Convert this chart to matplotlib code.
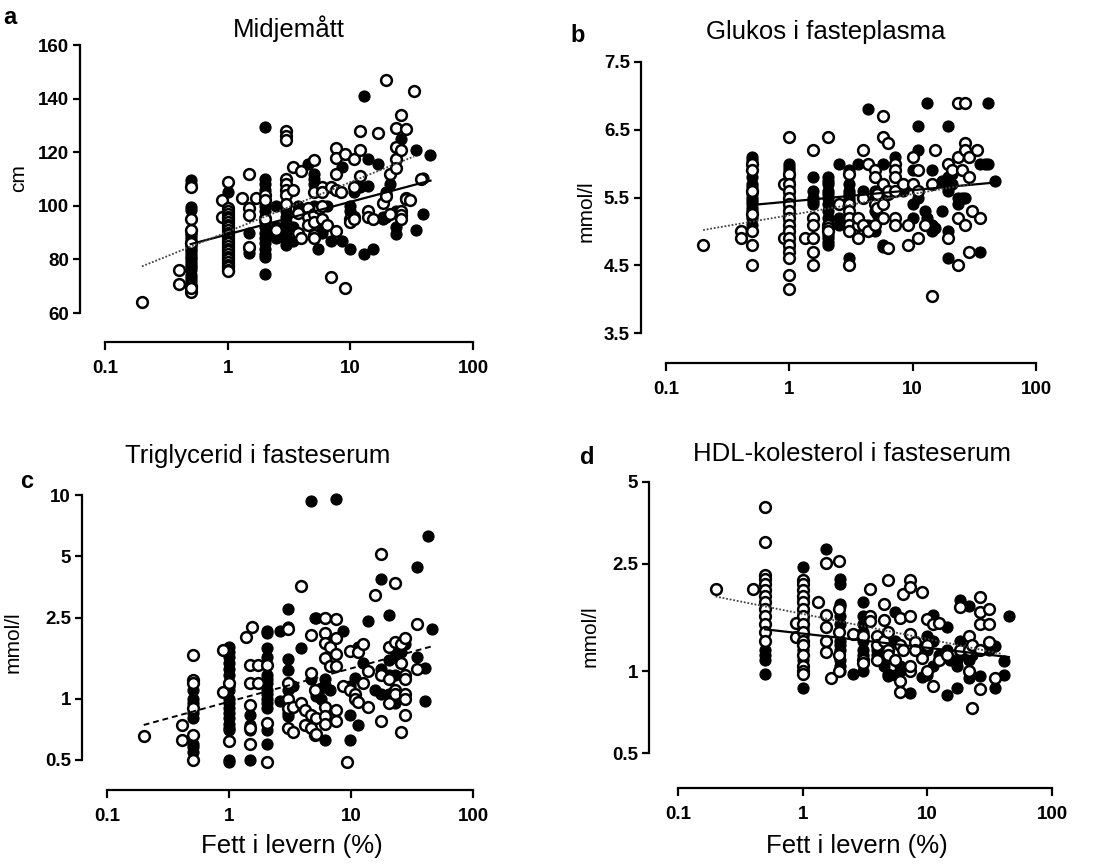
import matplotlib
matplotlib.use("Agg")
import matplotlib.pyplot as plt
import numpy as np

plt.rcParams['font.family'] = ['Liberation Sans', 'DejaVu Sans']

# ---------------- DATA (columns: (fat %, [values])) ----------------
# Panel a: Midjemått (cm)
a_filled = [
    (0.5, [109.5, 108, 99.5, 98.5, 90, 89, 88, 87, 86, 85, 84, 83, 82, 81, 80, 79, 78, 77, 76, 74, 73, 72]),
    (1.0, [105, 98, 96, 94, 90, 88, 85, 82, 80, 78]),
    (1.5, [90, 84, 82.5]),
    (2.0, [129.5, 110, 108, 106, 100, 98, 96, 94, 92, 90, 88, 86, 84, 82, 81, 74.5]),
    (2.5, [100, 92, 90, 88]),
    (3.0, [98, 96, 94, 92, 90, 87, 85.5]),
    (3.4, [92, 87]), (3.75, [100]), (4.0, [98]), (4.5, [115.5]),
    (5.1, [112, 110, 108, 100]), (5.5, [84]), (5.9, [91, 90]), (6.4, [100]),
    (7.0, [87]), (8.5, [114.5, 87]), (10, [100, 84, 98]), (10.8, [105]),
    (11.9, [107]), (12.9, [141, 82]), (13.9, [117.5, 107.5]), (15.3, [84]),
    (16.8, [115.5]), (18.5, [96, 95]), (19.6, [105, 104, 96]), (20.9, [108]),
    (23.4, [98, 92, 89.5]), (26, [125]), (34.5, [121, 91]), (39, [97, 110.5]),
    (44.9, [119]),
]
a_open = [
    (0.2, [64]), (0.4, [76, 71]), (0.5, [107, 95, 91, 86, 70, 68, 69.5]),
    (0.9, [102, 96]),
    (1.0, [109, 99, 98, 97, 96, 95, 94, 93, 92, 91, 90, 89, 88, 87, 86, 85, 84, 83, 82, 81, 80, 79, 78, 77, 76, 75.5]),
    (1.31, [103]), (1.5, [112, 99, 96.5, 84.5]), (1.69, [103]), (2.0, [104, 102, 95]),
    (2.5, [91]), (3.0, [128, 126, 124.5, 110, 108, 106, 104, 100.5]),
    (3.41, [114.5, 106]), (3.74, [97.5, 90]), (3.98, [113, 88]), (4.5, [99, 96, 93]),
    (5.1, [117, 105, 97, 94, 89, 88]), (5.55, [99]), (5.9, [107, 105, 100, 95]),
    (6.4, [93]), (7.0, [107, 73.5]), (7.6, [121.5, 118, 112, 106, 90.5]),
    (8.45, [105]), (9.1, [119.5, 69.5]), (10, [95, 94]), (10.8, [117.5, 107, 96, 95]),
    (11.9, [128, 121, 111]), (13.9, [98, 96]), (15.3, [95]), (16.8, [127]),
    (18.5, [101]), (19.6, [147, 103.5]), (20.9, [112, 97]),
    (23.4, [129, 122, 117.5, 114]), (26, [134, 121, 98, 96.5, 95]),
    (28.2, [128.5, 103, 102.5]), (30.5, [102]), (32.8, [143]), (38, [110]),
]
a_fit_filled_x = [0.5, 45]
a_fit_filled_y = [85.7, 109.4]
a_fit_open_x = [0.2, 33]
a_fit_open_y = [77.4, 118.4]

# Panel b: Glukos i fasteplasma (mmol/l)
b_filled = [
    (0.5, [6.1, 6.05, 5.8, 5.7, 5.65, 5.55, 5.5, 5.45, 5.4, 5.35, 5.3, 5.2, 5.1]),
    (1.0, [6.0, 5.95, 5.9, 5.8, 5.75, 5.65, 5.55, 5.45, 5.35, 5.25, 5.15, 5.05, 4.95, 4.85, 4.75]),
    (1.57, [5.8, 5.6, 5.5, 5.45, 5.4]),
    (2.05, [5.8, 5.75, 5.7, 5.6, 5.55, 5.5, 5.4, 5.3, 5.2, 4.95, 4.9, 4.85, 4.8]),
    (2.54, [6.0, 5.2, 5.1]), (3.05, [5.9, 5.7, 5.6, 5.55, 5.5, 5.45, 4.6]),
    (3.58, [6.0]), (3.98, [5.6]), (4.37, [6.8, 5.1]), (4.95, [5.6, 5.5, 5.3, 5.0]),
    (5.1, [5.55, 5.25]), (5.78, [6.0, 5.5, 4.8, 4.77]), (7.2, [6.1]), (8.4, [5.6]),
    (10, [5.9, 5.4, 5.2]), (11.1, [6.55, 6.2, 5.5]), (12.6, [5.3]), (13, [6.9, 5.2]),
    (14.3, [5.9, 5.1, 5.0]), (15.2, [5.05]), (17.2, [5.3, 5.75]),
    (19.5, [6.55, 5.8, 5.6, 4.6, 5.0]), (20.7, [5.85, 5.7]), (23.4, [5.5, 5.4]),
    (24.9, [5.5]), (26.5, [5.5]), (35.2, [6.0, 4.7]), (38.6, [6.0]), (41, [6.9, 6.0]),
    (46.5, [5.75]),
]
b_open = [
    (0.2, [4.8]), (0.405, [5.0, 4.9]), (0.5, [6.0, 5.9, 5.6, 5.25, 5.0, 4.8, 4.5]),
    (0.906, [5.7, 4.9]),
    (1.0, [6.4, 5.85, 5.7, 5.6, 5.5, 5.4, 5.3, 5.2, 5.1, 5.0, 4.9, 4.8, 4.7, 4.6, 4.35, 4.15]),
    (1.34, [4.9]), (1.57, [6.2, 5.2, 5.1, 4.9, 4.7, 4.5]), (2.05, [6.4, 5.1, 5.05, 5.0]),
    (2.54, [5.4]), (3.05, [5.85, 5.4, 5.3, 5.2, 5.1, 5.0, 4.5]), (3.58, [5.1, 4.9, 5.2]),
    (3.98, [6.2, 5.5, 5.1]), (4.37, [6.0, 5.0]), (4.95, [5.9, 5.8, 5.4, 5.1]),
    (5.1, [5.55, 5.35]), (5.78, [6.7, 6.4, 5.7, 5.4, 5.2]), (6.36, [6.3, 4.75, 5.55, 5.6]),
    (7.2, [6.0, 5.9, 5.8, 5.6, 5.2, 5.1]), (8.4, [5.7]), (9.1, [5.1, 4.8]),
    (10, [6.1, 5.7]), (11.1, [5.9, 5.6, 4.9]), (12.6, [5.1]), (14.3, [4.05, 5.7]),
    (15.2, [6.2]), (19.5, [6.0, 4.9]), (20.7, [5.9]), (23.4, [6.9, 6.1, 5.2, 4.5]),
    (24.9, [5.9]), (26.5, [6.9, 6.3, 6.2, 5.1]), (28.8, [6.1, 5.8, 4.7]), (30.5, [5.3]),
    (33, [6.2]), (35.2, [5.2]),
]
b_fit_filled_x = [0.5, 46]
b_fit_filled_y = [5.39, 5.72]
b_fit_open_x = [0.2, 30]
b_fit_open_y = [5.02, 5.70]

# Panel c: Triglycerid i fasteserum (mmol/l)
c_filled = [
    (0.51, [1.1, 1.0, 0.95, 0.85, 0.8, 0.6, 0.58, 0.55]),
    (1.0, [1.8, 1.7, 1.6, 1.5, 1.4, 1.3, 1.15, 1.1, 1.0, 0.95, 0.9, 0.85, 0.8, 0.75, 0.72, 0.7, 0.5, 0.49]),
    (1.5, [0.83, 0.74, 0.7, 0.5]),
    (2.04, [2.15, 2.1, 1.77, 1.6, 1.3, 1.25, 1.2, 1.1, 1.05, 1.0, 0.95, 0.9, 0.7, 0.6]),
    (2.6, [2.15, 0.97]), (3.05, [2.76, 2.25, 1.56, 1.38, 1.1, 0.95, 0.85, 0.82]),
    (3.35, [1.15]), (3.92, [1.77]), (4.68, [9.34, 1.25]), (5.05, [2.48]),
    (5.2, [2.48, 1.03]), (5.73, [1.0, 1.13]), (6.1, [1.25, 1.17, 0.63]), (6.7, [1.1]),
    (7.6, [9.56]), (8.6, [2.14]), (9.8, [1.15, 0.83, 0.63]), (10.8, [1.26]),
    (11.5, [1.8, 0.74]), (12.6, [1.49]), (13.9, [2.42]), (15.6, [1.1]),
    (17.6, [3.87, 1.4, 1.05]), (20.3, [2.58, 1.55, 1.3, 1.05]), (23, [1.75, 1.6, 1.3, 0.95]),
    (25.8, [1.7]), (27.9, [1.85]), (34.7, [4.45, 1.6]), (40.7, [1.42, 0.97]),
    (42.9, [6.31]), (46.2, [2.2]),
]
c_open = [
    (0.2, [0.656]), (0.41, [0.743, 0.627]), (0.51, [1.64, 1.23, 1.2, 0.9, 0.66, 0.5]),
    (0.89, [1.73, 1.08]), (1.0, [1.2, 0.62]), (1.38, [2.01]), (1.54, [2.24]),
    (1.5, [1.46, 1.19, 0.93, 0.72, 0.6]), (1.72, [1.46, 1.19]), (2.04, [1.46, 0.76, 0.49]),
    (3.05, [2.2, 1.2, 1.0, 0.9, 0.72]), (3.35, [0.91, 0.69]), (3.92, [3.57, 0.95]),
    (4.17, [0.74, 0.88]), (4.68, [2.06, 1.33, 0.83, 0.72]), (5.05, [1.1, 0.66]),
    (5.2, [0.8, 0.67]), (6.1, [2.5, 2.1, 1.87, 1.58, 0.91, 0.82, 0.75]), (6.7, [1.8, 1.44]),
    (7.6, [2.45, 1.98, 1.66, 1.45, 0.88, 0.78]), (8.6, [1.15]), (9.3, [0.49]),
    (9.8, [1.71, 1.1]), (10.8, [1.05, 1.0]), (11.5, [1.7, 0.96]), (12.6, [1.85, 1.2]),
    (13.9, [1.36, 0.91]), (15.6, [3.23]), (17.6, [5.13, 1.3, 0.78]), (20.3, [1.8, 1.25, 0.95]),
    (23, [3.7, 1.9, 1.1, 1.05]), (25.8, [1.85, 1.5, 0.69]),
    (27.9, [1.98, 1.3, 1.25, 1.05, 0.83, 1.0]), (34.7, [2.33, 1.4]),
]
c_fit_x = [0.2, 45]
c_fit_y = [0.743, 1.8]

# Panel d: HDL-kolesterol i fasteserum (mmol/l)
d_filled = [
    (0.5, [1.2, 1.15, 1.1, 0.98]),
    (1.0, [2.43, 1.85, 1.65, 1.55, 1.45, 1.35, 1.2, 1.1, 0.87]),
    (1.53, [2.84]),
    (2.0, [2.19, 2.1, 1.78, 1.75, 1.6, 1.5, 1.3, 1.25, 1.2, 1.1, 1.05, 1.0]),
    (2.52, [0.98]), (3.07, [1.81, 1.6, 1.5, 1.4, 1.3, 1.2, 1.15, 1.0]),
    (3.92, [1.2, 1.15]), (4.52, [1.1, 1.05]), (4.87, [0.96, 0.98]), (5.5, [1.65, 1.3, 0.97]),
    (6.04, [1.0, 1.05]), (7.27, [0.83]), (9.0, [0.95]), (10, [1.35, 1.2, 0.97]),
    (11.2, [1.61, 1.3, 1.05]), (12.3, [1.15]), (14.3, [1.46, 1.2, 0.82]), (15.2, [1.1]),
    (17.3, [0.87, 1.1, 1.05]), (18.4, [1.83, 1.3, 1.15]), (21.4, [1.75, 1.1, 0.945]),
    (23, [1.15, 1.2]), (26.6, [0.96]), (31, [1.2]), (35, [1.24, 0.87]), (41, [1.09, 0.97]),
    (44.9, [1.6]),
]
d_open = [
    (0.2, [2.02]), (0.4, [2.02]),
    (0.5, [4.05, 3.0, 2.27, 2.2, 2.1, 2.0, 1.9, 1.8, 1.7, 1.6, 1.5, 1.4, 1.3]),
    (0.89, [1.51, 1.34]),
    (1.0, [2.17, 2.1, 2.0, 1.9, 1.8, 1.7, 1.6, 1.5, 1.4, 1.3, 1.25, 1.15, 1.05, 1.0, 0.98]),
    (1.32, [1.81]), (1.53, [2.51, 1.61, 1.46, 1.29, 1.18]), (1.69, [0.945]),
    (1.97, [2.55, 1.7, 1.4, 1.15, 1.0]), (2.52, [1.38]), (3.07, [1.35, 1.1, 1.07]),
    (3.47, [2.02, 1.6, 1.53]), (3.92, [1.35, 1.25, 1.1]), (4.52, [1.78, 1.55, 1.3]),
    (4.87, [2.18, 1.4, 1.2, 1.15]), (5.5, [1.1]), (6.04, [1.58, 1.25, 0.92, 0.84]),
    (6.43, [1.93, 1.2]), (7.27, [2.18, 2.05, 1.6, 1.38, 1.0, 1.05]), (7.98, [1.28, 1.2]),
    (9.0, [1.97, 1.12]), (10, [1.56, 1.0, 1.25]), (11.2, [1.5, 0.88]), (12.3, [1.51, 1.1]),
    (14.3, [1.15]), (18.4, [1.73, 1.2]), (21.4, [1.35, 1.0, 1.2]), (23, [0.73, 1.25]),
    (26.6, [1.88, 1.65, 1.5, 0.86, 1.2]), (31, [1.7, 1.5, 1.28]), (35, [0.945]),
]
d_fit_filled_x = [0.5, 45]
d_fit_filled_y = [1.43, 1.13]
d_fit_open_x = [0.2, 40]
d_fit_open_y = [1.89, 1.16]

x_ticks = [0.1, 1, 10, 100]
x_ticklabels = ["0.1", "1", "10", "100"]
a_yticks = [60, 80, 100, 120, 140, 160]
b_yticks = [3.5, 4.5, 5.5, 6.5, 7.5]
c_yticks = [0.5, 1, 2.5, 5, 10]
d_yticks = [0.5, 1, 2.5, 5]

titles = ["Midjemått", "Glukos i fasteplasma", "Triglycerid i fasteserum", "HDL-kolesterol i fasteserum"]
ylabels = ["cm", "mmol/l", "mmol/l", "mmol/l"]
letters = ["a", "b", "c", "d"]
xlabel = "Fett i levern (%)"

# ---------------- FIGURE ----------------
W, H = 1110, 864
fig = plt.figure(figsize=(W / 100, H / 100), dpi=100)


def expand(cols):
    xs, ys = [], []
    for xv, vals in cols:
        xs.extend([xv] * len(vals))
        ys.extend(vals)
    return np.array(xs), np.array(ys)


def fx(px):
    return px / W


def fy(py):
    return 1 - py / H


def px2pt(p):
    return p * 72 / 100


# axes boxes in pixels: (x_left, x_right, y_top, y_bottom, left outward, bottom outward)
boxes = [
    (105, 473, 45, 313, 25, 29),
    (666, 1036, 62, 333, 25, 30),
    (107, 473, 495, 760, 25, 30),
    (678, 1052, 482, 753, 29, 35),
]

filled_sets = [a_filled, b_filled, c_filled, d_filled]
open_sets = [a_open, b_open, c_open, d_open]
yticks_all = [a_yticks, b_yticks, c_yticks, d_yticks]
ylims = [(60, 160), (3.5, 7.5), (0.5, 10), (0.5, 5)]
ylog = [False, False, True, True]

axes = []
for i, (xl, xr, yt, yb, lo, bo) in enumerate(boxes):
    ax = fig.add_axes([fx(xl), fy(yb), (xr - xl) / W, (yb - yt) / H])
    axes.append(ax)
    ax.set_xscale('log')
    if ylog[i]:
        ax.set_yscale('log')
    ax.set_xlim(0.1, 100)
    ax.set_ylim(*ylims[i])
    ax.spines['top'].set_visible(False)
    ax.spines['right'].set_visible(False)
    ax.spines['left'].set_position(('outward', px2pt(lo)))
    ax.spines['bottom'].set_position(('outward', px2pt(bo)))
    for s in ('left', 'bottom'):
        ax.spines[s].set_linewidth(1.6)
    ax.set_xticks(x_ticks)
    ax.set_xticklabels(x_ticklabels)
    ax.set_yticks(yticks_all[i])
    ax.set_yticklabels([("%g" % v) for v in yticks_all[i]])
    ax.minorticks_off()
    ax.tick_params(axis='both', which='major', direction='out', width=1.6, labelsize=13.5)
    ax.tick_params(axis='x', length=6, pad=7)
    ax.tick_params(axis='y', length=5, pad=3)
    for lab in ax.get_xticklabels() + ax.get_yticklabels():
        lab.set_fontweight('bold')
    ax.patch.set_alpha(0)

    fxs, fys = expand(filled_sets[i])
    oxs, oys = expand(open_sets[i])
    ax.scatter(fxs, fys, s=64, facecolor='black', edgecolor='black', linewidth=0.8,
               zorder=2, clip_on=False)
    ax.scatter(oxs, oys, s=60, facecolor='white', edgecolor='black', linewidth=1.8,
               zorder=2.5, clip_on=False)

# regression lines
axes[0].plot(a_fit_filled_x, a_fit_filled_y, color='black', lw=1.6, zorder=4)
axes[0].plot(a_fit_open_x, a_fit_open_y, color='#444444', lw=1.3, ls=(0, (1, 1)), zorder=4)
axes[1].plot(b_fit_filled_x, b_fit_filled_y, color='black', lw=1.6, zorder=4)
axes[1].plot(b_fit_open_x, b_fit_open_y, color='#444444', lw=1.3, ls=(0, (1, 1)), zorder=4)
axes[2].plot(c_fit_x, c_fit_y, color='black', lw=1.4, ls=(0, (3, 2)), zorder=4)
axes[3].plot(d_fit_filled_x, d_fit_filled_y, color='black', lw=1.6, zorder=4)
axes[3].plot(d_fit_open_x, d_fit_open_y, color='#444444', lw=1.3, ls=(0, (1, 1)), zorder=4)

# titles, labels, letters (pixel positions)
title_pos = [(289, 29), (826, 32), (258, 456), (852, 454)]
ylabel_pos = [(19, 178), (586, 211), (13, 642), (590, 636)]
letter_pos = [(10, 17), (578, 36), (27, 482), (587, 458)]
xlabel_pos = [(292, 846), (857, 846)]

for i in range(4):
    fig.text(fx(title_pos[i][0]), fy(title_pos[i][1]), titles[i], ha='center', va='center',
             fontsize=18.5)
    fig.text(fx(ylabel_pos[i][0]), fy(ylabel_pos[i][1]), ylabels[i], ha='center', va='center',
             fontsize=15, rotation=90)
    fig.text(fx(letter_pos[i][0]), fy(letter_pos[i][1]), letters[i], ha='center', va='center',
             fontsize=17, fontweight='bold')
for p in xlabel_pos:
    fig.text(fx(p[0]), fy(p[1]), xlabel, ha='center', va='center', fontsize=18.5)

fig.savefig("out.png", dpi=100, facecolor='white')
